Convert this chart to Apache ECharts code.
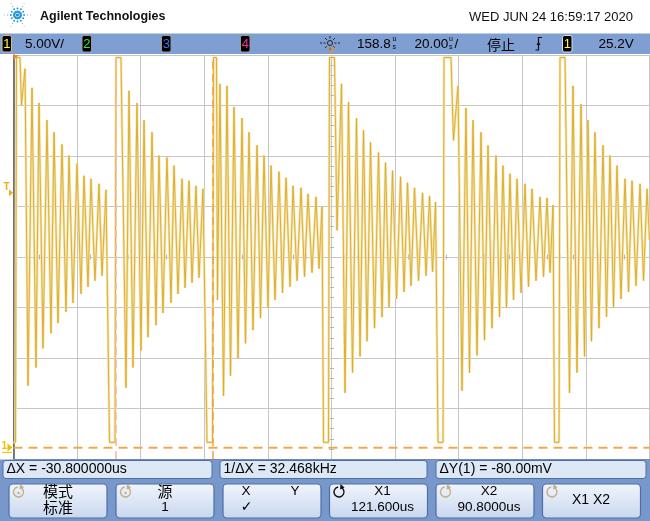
<!DOCTYPE html>
<html><head><meta charset="utf-8">
<script src="https://cdn.jsdelivr.net/npm/echarts@6/dist/echarts.min.js"></script>
<style>html,body{margin:0;padding:0;background:#fff}#c{width:650px;height:521px}</style>
</head><body><div id="c"></div>
<script>
// ---------------- scope settings (from the header) ----------------
const voltsPerDiv = 5.00;      // 5.00V/
const timePerDiv = 20.00;      // 20.00us/
const delayUs = 158.8;         // 158.8us (screen centre)
const groundOffsetV = -1.15;   // volts at bottom of screen
const triggerLevelV = 25.2;
const cursorX1 = 121.6, cursorX2 = 90.8;   // us
const cursorY1 = 0.0, cursorY2 = -0.08;    // V

// ---------------- waveform (time us / volts) ----------------
const burstA_t = [58.8, 59.43, 59.74, 60.84, 61.32, 62.42, 63.36, 64.62, 65.88, 66.82, 68.08, 69.33, 70.59, 71.54, 72.79, 74.05, 75.31, 76.25, 77.51, 78.77, 80.03, 80.97, 82.23, 83.17, 84.43, 85.69, 86.63, 87.89, 88.99];
const burstA_v = [0.5, 0.5, 38.6, 38.6, 33.9, 37.5, 6.1, 35.6, 7.9, 34.1, 9.8, 32.4, 11.3, 31.2, 12.3, 30.0, 13.4, 28.9, 14.3, 28.1, 15.2, 26.9, 15.9, 26.6, 16.5, 26.1, 17.0, 25.5, 0.5];
const burstB_t = [90.72, 91.03, 92.6, 94.18, 95.12, 96.38, 97.64, 98.89, 99.84, 101.09, 102.35, 103.61, 104.55, 105.81, 107.07, 108.33, 109.27, 110.53, 111.79, 112.74, 113.99, 114.94, 116.19, 117.14, 118.4, 119.65];
const burstB_v = [0.5, 38.6, 38.6, 5.9, 35.3, 7.9, 34.1, 9.6, 32.4, 10.9, 31.2, 12.1, 28.9, 13.3, 28.7, 14.3, 27.9, 15.2, 26.6, 15.8, 26.4, 16.3, 25.9, 16.8, 25.6, 0.5];
const burstC_t = [121.38, 121.69, 122.63, 122.94, 123.73, 124.84, 125.94, 127.04, 128.14, 129.40, 130.66, 131.76, 132.86, 134.12, 135.38, 136.48, 137.58, 138.84, 139.78, 141.04, 142.30, 143.40, 144.50, 145.76, 146.70, 147.96, 149.21, 150.31, 151.42, 152.67, 153.93, 154.87, 155.82, 156.29];
const burstC_v = [0.5, 38.6, 38.6, 14.6, 36.0, 5.1, 35.8, 7.1, 33.7, 8.8, 32.6, 10.3, 31.2, 11.6, 29.9, 12.8, 28.9, 13.8, 27.9, 14.6, 27.3, 15.3, 26.7, 15.9, 25.9, 16.5, 25.7, 16.9, 25.1, 17.3, 24.8, 17.7, 23.8, 0.5];
const burstD_t = [157.86, 158.17, 159.74, 160.53, 161.95, 163.05, 164.15, 165.41, 166.67, 167.77, 168.87, 169.97, 171.07, 172.33, 173.59, 174.69, 175.79, 176.89, 177.99, 179.25, 180.51, 181.61, 182.71, 183.81, 184.91, 186.17, 187.43, 188.53, 189.63, 190.57, 191.52, 192.30];
const burstD_v = [0.5, 38.6, 38.6, 21.5, 36.0, 5.4, 34.2, 7.4, 32.6, 9.0, 31.4, 10.5, 30.2, 11.8, 29.2, 12.9, 28.2, 13.9, 27.4, 14.7, 26.8, 15.4, 26.2, 16.0, 25.7, 16.5, 25.2, 17.0, 24.9, 17.4, 24.3, 0.5];
const burstE_t = [193.88, 194.18, 196.38, 197.16, 198.58, 199.84, 201.09, 202.19, 203.30, 204.56, 205.82, 206.92, 208.02, 209.28, 210.53, 211.63, 212.73, 213.83, 214.93, 216.04, 217.14, 218.40, 219.65, 220.75, 221.86, 223.11, 224.37, 225.47, 226.57, 227.52, 228.46, 228.93];
const burstE_v = [0.5, 38.6, 38.6, 30.4, 35.8, 5.6, 33.6, 7.4, 32.4, 9.1, 31.2, 10.6, 29.9, 11.8, 28.9, 12.9, 27.9, 13.8, 27.1, 14.6, 26.6, 15.3, 26.1, 15.9, 25.6, 16.5, 24.8, 16.9, 24.7, 17.3, 24.0, 0.5];
const burstF_t = [230.35, 230.66, 232.23, 233.64, 234.74, 236.00, 237.26, 238.36, 239.46, 240.56, 241.66, 242.92, 244.18, 245.28, 246.38, 247.48, 248.58, 249.84, 251.10, 252.20, 253.30, 254.56, 255.82, 256.92, 258.02, 258.8];
const burstF_v = [0.5, 38.6, 38.6, 5.4, 35.8, 7.4, 34.0, 9.0, 32.4, 10.5, 31.2, 11.8, 29.9, 12.9, 28.9, 13.9, 27.9, 14.7, 26.6, 15.4, 26.4, 16.0, 26.1, 16.5, 25.6, 20.5];

// ---------------- texts ----------------
const brandText = 'Agilent Technologies';
const dateText = 'WED JUN 24 16:59:17 2020';
const measureTexts = ['ΔX = -30.800000us', '1/ΔX = 32.468kHz', 'ΔY(1) = -80.00mV'];
const softkeys = [
  {l1: '模式', l2: '标准', cjk: true, icon: 'tan'},
  {l1: '源', l2: '1', cjk: true, icon: 'tan'},
  {l1: 'X          Y', l2: '✓', icon: null},
  {l1: 'X1', l2: '121.600us', icon: 'dark'},
  {l1: 'X2', l2: '90.8000us', icon: 'tan'},
  {l1: 'X1 X2', l2: '', icon: 'tan'}
];

const tMin = delayUs - 5 * timePerDiv, tMax = delayUs + 5 * timePerDiv;
const vMin = groundOffsetV, vMax = groundOffsetV + 8 * voltsPerDiv;

function zip(t, v) { return t.map((x, i) => [x, v[i]]); }
const wave = [].concat(zip(burstA_t, burstA_v), zip(burstB_t, burstB_v), zip(burstC_t, burstC_v),
  zip(burstD_t, burstD_v), zip(burstE_t, burstE_v), zip(burstF_t, burstF_v));

const FONT = '"Liberation Sans", Arial, sans-serif';
const CJK = '"Noto Sans CJK SC", sans-serif';

const chart = echarts.init(document.getElementById('c'), null, {renderer: 'canvas'});

const hiddenAxis = {type: 'value', show: false};
const centerTick = (inside, idx) => ({
  type: 'value', min: idx === 'x' ? -5 : -4, max: idx === 'x' ? 5 : 4, interval: 1,
  axisLine: {show: false, onZero: true, onZeroAxisIndex: 2},
  axisTick: {show: false, inside: inside},
  minorTick: {show: true, splitNumber: 5, length: 2.5, lineStyle: {color: '#b4b4b4', width: 1}},
  axisLabel: {show: false}, splitLine: {show: false}
});

chart.setOption({
  animation: false,
  backgroundColor: '#ffffff',
  grid: {left: 13.5, top: 55, width: 636, height: 404, containLabel: false},
  xAxis: [
    {type: 'value', min: 0, max: 10, interval: 1,
      axisLine: {show: true, onZero: false, lineStyle: {color: '#7a7a7a', width: 1.2}},
      axisTick: {show: false}, axisLabel: {show: false},
      splitLine: {show: true, lineStyle: {color: '#c6c6c6', width: 1}}},
    Object.assign({min: tMin, max: tMax}, hiddenAxis),
    centerTick(false, 'x'),
    centerTick(true, 'x')
  ],
  yAxis: [
    {type: 'value', min: 0, max: 8, interval: 1,
      axisLine: {show: true, onZero: false, lineStyle: {color: '#555555', width: 1.5}},
      axisTick: {show: false}, axisLabel: {show: false},
      splitLine: {show: true, lineStyle: {color: '#c6c6c6', width: 1}}},
    Object.assign({min: vMin, max: vMax}, hiddenAxis),
    centerTick(false, 'y'),
    centerTick(true, 'y')
  ],
  series: [
    {type: 'line', name: 'cursors', xAxisIndex: 1, yAxisIndex: 1, data: [], z: 1, silent: true,
      markLine: {symbol: 'none', silent: true, animation: false, label: {show: false},
        data: [
          {xAxis: cursorX2, lineStyle: {color: '#f3b89c', type: [8, 5], width: 1.5}},
          {xAxis: cursorX1, lineStyle: {color: '#eea24a', type: [8, 5], width: 1.5}},
          {yAxis: cursorY1, lineStyle: {color: '#f6a545', type: [9, 6], width: 1.3}},
          {yAxis: cursorY2, lineStyle: {color: '#f6a545', type: [9, 6], width: 1.0, opacity: 0.6}}
        ]}},
    {type: 'line', name: 'glow', xAxisIndex: 1, yAxisIndex: 1, data: wave, symbol: 'none', showSymbol: false,
      lineStyle: {color: '#f4e4b2', width: 2.6}, z: 2, clip: true, silent: true},
    {type: 'line', name: 'trace', xAxisIndex: 1, yAxisIndex: 1, data: wave, symbol: 'none', showSymbol: false,
      lineStyle: {color: '#dcaa20', width: 0.9}, z: 3, clip: true, silent: true}
  ]
});

// ---------------- decorations ----------------
const g = [];
let gid = 0;
function add(el) { el.id = 'g' + (gid++); el.z = el.z || 10; g.push(el); }
function txt(text, x, y, opts) {
  add({type: 'text', style: Object.assign({text: text, x: x, y: y, font: '13.5px ' + FONT, fill: '#000',
    align: 'left', verticalAlign: 'middle'}, opts || {})});
}

// logo spark
const lcx = 17.5, lcy = 15;
for (let k = 0; k < 12; k++) {
  const a = k * Math.PI / 6;
  const n = (k % 2 === 0) ? 4 : 2;
  for (let i = 1; i <= n; i++) {
    const r = 3.3 * i;
    add({type: 'circle', shape: {cx: lcx + r * Math.cos(a), cy: lcy + r * Math.sin(a), r: Math.max(0.55, 1.55 - 0.28 * i)},
      style: {fill: i <= 2 ? '#2b9ad6' : '#7cc6ea'}});
  }
}
add({type: 'circle', shape: {cx: lcx, cy: lcy, r: 1.6}, style: {fill: '#1f8ccc'}});
txt(brandText, 40, 17, {font: 'bold 12.5px ' + FONT, fill: '#111'});
txt(dateText, 633, 17.5, {font: '13px ' + FONT, align: 'right', fill: '#111'});

// header bar
add({type: 'rect', shape: {x: 0, y: 33.5, width: 650, height: 20.5}, style: {fill: '#7f9fd2'}, z: 5});
const chBoxes = [[2, '1', '#ffff40', '#d8c070'], [82, '2', '#3ee03e', '#9a9a9a'], [161.5, '3', '#3d6df0', '#9a9a9a'], [240.5, '4', '#ff2a9c', '#9a9a9a'], [562.5, '1', '#ffff40', '#dddddd']];
chBoxes.forEach(b => {
  add({type: 'rect', shape: {x: b[0], y: 35.5, width: 9.5, height: 16.5, r: 2}, style: {fill: '#000', stroke: b[3], lineWidth: 1}});
  txt(b[1], b[0] + 4.75, 44, {fill: b[2], align: 'center', font: '13px ' + FONT});
});
txt('5.00V/', 25, 44);
// acquisition sun icon
(function () {
  const cx = 330, cy = 43;
  add({type: 'circle', shape: {cx: cx, cy: cy, r: 2.5}, style: {fill: 'none', stroke: '#222', lineWidth: 1}});
  for (let k = 0; k < 8; k++) {
    const a = k * Math.PI / 4;
    const r2 = (k % 4 === 0) ? 10 : 7;
    add({type: 'line', shape: {x1: cx + 4.5 * Math.cos(a), y1: cy + 4.5 * Math.sin(a), x2: cx + r2 * Math.cos(a), y2: cy + r2 * Math.sin(a)},
      style: {stroke: '#222', lineWidth: 1, lineDash: k % 4 === 0 ? [2, 1.5] : null}});
  }
})();
txt('158.8', 357, 44);
txt('u', 392.5, 39.5, {font: '7px ' + FONT});
txt('s', 392.5, 47.5, {font: '7px ' + FONT});
txt('20.00', 414.5, 44);
txt('u', 449, 39.5, {font: '7px ' + FONT});
txt('s', 449, 47.5, {font: '7px ' + FONT});
txt('/', 454.5, 44);
txt('停止', 487, 44.5, {font: '14px ' + CJK});
// trigger slope symbol
add({type: 'polyline', shape: {points: [[535.5, 50], [538.5, 50], [538.5, 37.5], [542, 37.5]]}, style: {stroke: '#111', lineWidth: 1.2, fill: 'none'}});
add({type: 'polygon', shape: {points: [[536.5, 45], [538.5, 41.5], [540.5, 45]]}, style: {fill: '#111'}});
txt('25.2V', 598.5, 44);
// delay marker (screen centre) & trigger-time marker
add({type: 'polygon', shape: {points: [[328, 48], [335, 48], [331.5, 53]]}, style: {fill: 'none', stroke: '#f09020', lineWidth: 1}});
add({type: 'polygon', shape: {points: [[13.5, 55], [19, 55], [13.5, 60]]}, style: {fill: '#f08a20'}});

// bottom area
add({type: 'rect', shape: {x: 0, y: 459.5, width: 650, height: 61.5}, style: {fill: '#7898cc'}, z: 5});
const mBoxes = [[3, 209], [220, 207], [436, 210]];
mBoxes.forEach((b, i) => {
  add({type: 'rect', shape: {x: b[0], y: 460.5, width: b[1], height: 18, r: 3}, style: {fill: '#dde8f7', stroke: '#4d6fa6', lineWidth: 1}});
  txt(measureTexts[i], b[0] + 3.5, 469.5, {font: '14px ' + FONT});
});
const kx = [9, 116, 223, 329.5, 436, 542.5];
softkeys.forEach((k, i) => {
  const x = kx[i], w = 98;
  add({type: 'rect', shape: {x: x, y: 484, width: w, height: 34, r: 4},
    style: {fill: new echarts.graphic.LinearGradient(0, 0, 0, 1, [{offset: 0, color: '#f0f5fc'}, {offset: 1, color: '#c8d7ef'}]),
      stroke: '#4e6fa5', lineWidth: 1.2}});
  const cx = x + w / 2;
  if (k.icon) {
    const col = k.icon === 'dark' ? '#111' : '#c4ae84';
    const icx = x + 9.5, icy = 492;
    add({type: 'arc', shape: {cx: icx, cy: icy, r: 5, startAngle: -Math.PI * 0.35, endAngle: Math.PI * 1.45}, style: {stroke: col, lineWidth: 1.4, fill: 'none'}});
    add({type: 'polygon', shape: {points: [[icx + 1.5, icy - 8], [icx + 5.5, icy - 4.5], [icx + 1, icy - 2.5]]}, style: {fill: col}});
    if (i < 2) add({type: 'circle', shape: {cx: icx, cy: icy + 1, r: 1.2}, style: {fill: col}});
  }
  if (i === 2) {
    txt('X', 246, 491.5, {align: 'center'});
    txt('Y', 295, 491.5, {align: 'center'});
    txt('✓', 246.5, 507.5, {align: 'center', font: '14px "DejaVu Sans", sans-serif'});
  } else if (i === 5) {
    txt(k.l1, 591, 500, {align: 'center', font: '14px ' + FONT});
  } else {
    const f = k.cjk ? '15px ' + CJK : '13.5px ' + FONT;
    const offs = i >= 3 ? 4 : 0;
    txt(k.l1, cx + offs, 491.5, {align: 'center', font: f});
    txt(k.l2, cx + offs, 507.5, {align: 'center', font: k.cjk && k.l2 !== '1' ? '15px ' + CJK : '13.5px ' + FONT});
  }
});

// left margin markers tied to axis values
const trigY = chart.convertToPixel({yAxisIndex: 1}, triggerLevelV);
const gndY = chart.convertToPixel({yAxisIndex: 1}, 0);
txt('T', 3.5, trigY - 5.5, {font: 'bold 10px ' + FONT, fill: '#f0ac10'});
add({type: 'polygon', shape: {points: [[9, trigY - 3.5], [13, trigY], [9, trigY + 3.5]]}, style: {fill: '#f0ac10'}});
txt('1', 1.5, gndY - 1, {font: 'bold 10px ' + FONT, fill: '#f2bc00'});
add({type: 'polygon', shape: {points: [[7.5, gndY - 4], [12.5, gndY], [7.5, gndY + 4]]}, style: {fill: '#f2bc00'}});
add({type: 'line', shape: {x1: 2, y1: gndY + 5, x2: 12, y2: gndY + 5}, style: {stroke: '#f2bc00', lineWidth: 1}});

chart.setOption({graphic: g});
</script>
</body></html>
